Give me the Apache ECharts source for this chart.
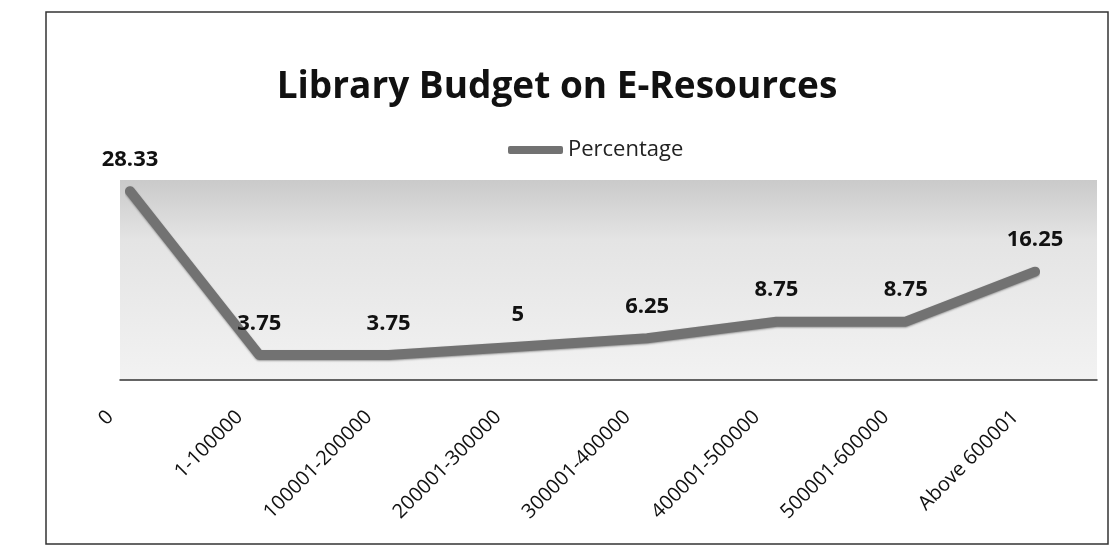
<!DOCTYPE html>
<html>
<head>
<meta charset="utf-8">
<script src="https://cdn.jsdelivr.net/npm/echarts@6/dist/echarts.min.js"></script>
<style>html,body{margin:0;padding:0;background:#fff}#c{width:1114px;height:558px}</style>
</head>
<body>
<div id="c"></div>
<script>
const categories = ['0','1-100000','100001-200000','200001-300000','300001-400000','400001-500000','500001-600000','Above 600001'];
const percentage = [28.33, 3.75, 3.75, 5, 6.25, 8.75, 8.75, 16.25];
const seriesName = 'Percentage';
const titleText = 'Library Budget on E-Resources';

const font = "'Open Sans', 'Liberation Sans', sans-serif";
const chart = echarts.init(document.getElementById('c'), null, {renderer:'canvas'});
chart.setOption({
  backgroundColor: '#ffffff',
  animation: false,
  title: {
    text: titleText, left: 'center', top: 64,
    textStyle: {fontFamily: font, fontWeight: 'bold', fontSize: 37, color: '#111'}
  },
  legend: {
    data: [seriesName], top: 134, left: 503,
    icon: 'roundRect', itemWidth: 55, itemHeight: 8, itemGap: 4,
    textStyle: {fontFamily: font, fontSize: 22, color: '#222'}
  },
  graphic: [{
    type: 'rect', shape: {x: 46, y: 12, width: 1062, height: 532},
    style: {fill: 'none', stroke: '#333', lineWidth: 1.5}, silent: true
  }],
  grid: [
    {left: 130, right: 79, top: 180, bottom: 178, containLabel: false},
    {left: 120, right: 17, top: 180, bottom: 178, show: true, borderWidth: 0,
     backgroundColor: {type: 'linear', x: 0, y: 0, x2: 0, y2: 1,
       colorStops: [{offset: 0, color: '#cacaca'}, {offset: 0.3, color: '#e4e4e4'}, {offset: 1, color: '#f2f2f2'}]}}
  ],
  xAxis: [
    {type: 'category', data: categories, boundaryGap: false, gridIndex: 0,
     axisLine: {show: false}, axisTick: {show: false},
     axisLabel: {rotate: 45, interval: 0, margin: 14, padding: [0, 28, 0, 0], fontFamily: font, fontSize: 20, color: '#111'}},
    {type: 'category', data: [''], gridIndex: 1, axisLine: {show: true, lineStyle: {color: '#333', width: 1.5}},
     axisTick: {show: false}, axisLabel: {show: false}}
  ],
  yAxis: [
    {type: 'value', min: 0, max: 30, gridIndex: 0, show: false, splitLine: {show: false}},
    {type: 'value', min: 0, max: 30, gridIndex: 1, show: false, splitLine: {show: false}}
  ],
  series: [{
    name: seriesName, type: 'line', data: percentage, xAxisIndex: 0, yAxisIndex: 0, z: 5,
    showSymbol: true, symbol: 'circle', symbolSize: 1, itemStyle: {color: '#727272'},
    lineStyle: {width: 10, color: '#727272', cap: 'round', join: 'round',
      shadowColor: 'rgba(0,0,0,0.35)', shadowBlur: 2, shadowOffsetY: 1},
    label: {show: true, position: 'top', distance: 20, fontFamily: font, fontWeight: 'bold', fontSize: 22, color: '#111'}
  }]
});
</script>
</body>
</html>
